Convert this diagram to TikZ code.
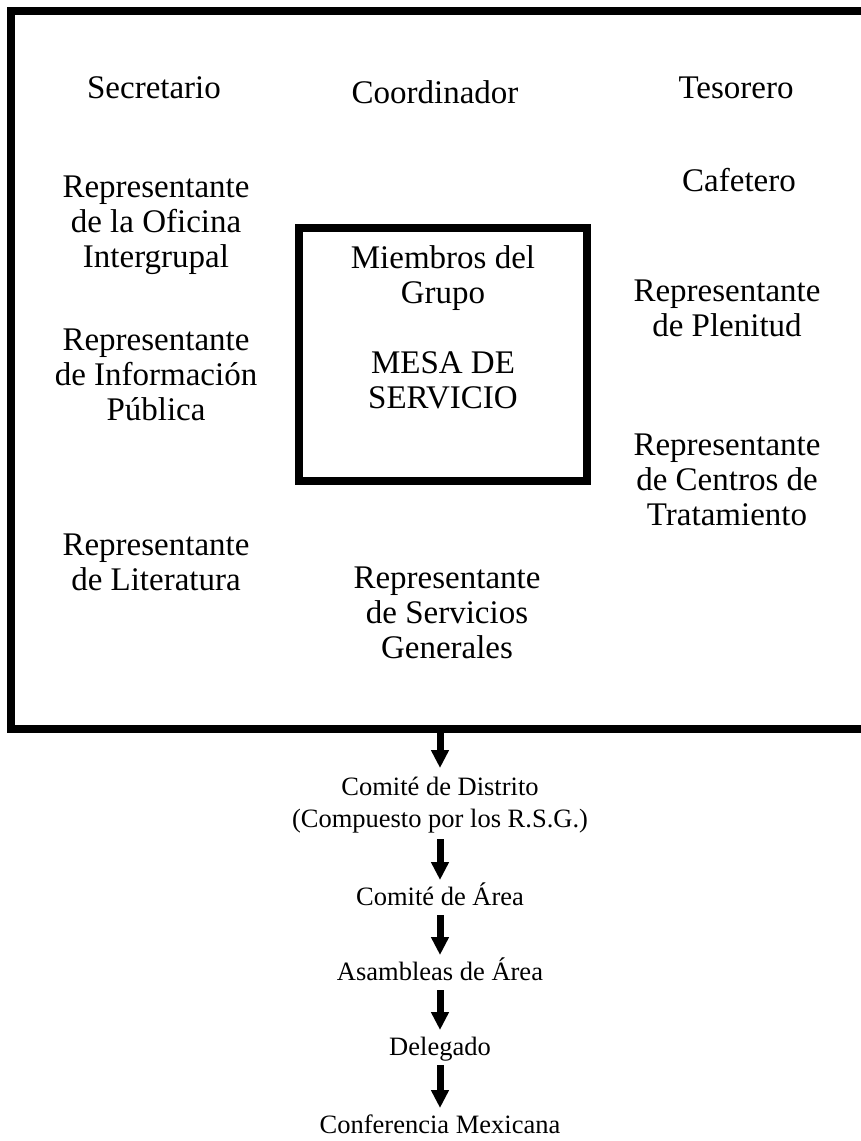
\documentclass[tikz,border=0pt]{standalone}
\usepackage{fontspec}
\setmainfont{Liberation Serif}
\usetikzlibrary{arrows.meta,calc}
\begin{document}
\begin{tikzpicture}[x=1pt,y=-1pt,
  lbl/.style={align=center,inner sep=0pt,font=\fontsize{33}{35}\selectfont},
  flow/.style={align=center,inner sep=0pt,font=\fontsize{26.5}{32}\selectfont},
  frameline/.style={line width=8pt},
  arr/.style={line width=7pt,-{Triangle[length=18pt,width=17pt]}}]
\useasboundingbox (0,0) rectangle (860,1141);
\fill[white] (0,0) rectangle (860,1141);
% outer frame (open past the right edge)
\draw[frameline] (885,11) -- (11,11) -- (11,729) -- (885,729);
\coordinate (fb) at (440,729);
% central box
\node[draw,line width=8pt,minimum width=288pt,minimum height=253pt,inner sep=0pt] (mesa) at (443,354.5) {};
\node[lbl] (mesatxt) at (443,327) {Miembros del\\Grupo\\[35pt]MESA DE\\SERVICIO};
% top row
\node[lbl] (sec) at (154,88) {Secretario};
\node[lbl] (coord) at (435,92) {Coordinador};
\node[lbl] (tes) at (736,88) {Tesorero};
% left column
\node[lbl] (ofi) at (156,225) {Representante\\de la Oficina\\Intergrupal};
\node[lbl] (info) at (156,375) {Representante\\de Información\\Pública};
\node[lbl] (lit) at (156,562) {Representante\\de Literatura};
% right column
\node[lbl] (caf) at (739,180) {Cafetero};
\node[lbl] (plen) at (727,308) {Representante\\de Plenitud};
\node[lbl] (cent) at (727,480) {Representante\\de Centros de\\Tratamiento};
% bottom centre
\node[lbl] (serv) at (447,613) {Representante\\de Servicios\\Generales};
% hierarchy below
\node[flow,anchor=north] (distrito) at (440,777) {Comité de Distrito\\(Compuesto por los R.S.G.)};
\node[flow,anchor=base] (area) at (440,905) {Comité de Área};
\node[flow,anchor=base] (asam) at (440,980) {Asambleas de Área};
\node[flow,anchor=base] (dele) at (440,1055) {Delegado};
\node[flow,anchor=base] (conf) at (440,1133) {Conferencia Mexicana};
\draw[arr] (fb) -- ([yshift=9pt]distrito.north);
\draw[arr] ([yshift=-6pt]distrito.south) -- ([yshift=25pt]area.base);
\draw[arr] ([yshift=-10pt]area.base) -- ([yshift=25pt]asam.base);
\draw[arr] ([yshift=-10pt]asam.base) -- ([yshift=25pt]dele.base);
\draw[arr] ([yshift=-10pt]dele.base) -- ([yshift=25pt]conf.base);
\end{tikzpicture}
\end{document}
